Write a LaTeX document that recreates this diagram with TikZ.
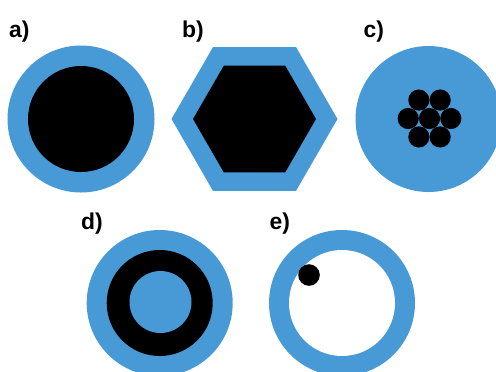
\documentclass[tikz,border=0pt]{standalone}
\usepackage{fontspec}
\setmainfont{Liberation Sans}
\definecolor{wireblue}{RGB}{72,154,214}
\begin{document}
\begin{tikzpicture}[x=1bp, y=-1bp,
  panel/.style={anchor=base west, inner sep=0pt, font=\fontsize{23}{27}\selectfont\bfseries}]
	\useasboundingbox (0,0) rectangle (496,371);
	\clip (0,0) rectangle (496,371);

	% a) round core in jacket
	\fill[wireblue] (81,119) circle (73.5);
	\fill[black] (81,119) circle (53);
	\node[panel] (lbla) at (9,37.3) {a)};

	% b) hexagonal core in hexagonal jacket
	\fill[wireblue, shift={(254.5,119)}] (0:83) \foreach \a in {60,120,...,300} {-- (\a:83)} -- cycle;
	\fill[black, shift={(254.5,119)}] (0:61.5) \foreach \a in {60,120,...,300} {-- (\a:61.5)} -- cycle;
	\node[panel] (lblb) at (182,37.3) {b)};

	% c) seven strands in a thick jacket
	\fill[wireblue] (428.5,119) circle (73);
	\fill[black] (429.5,118.5) circle (10.6);
	\foreach \a in {0,60,...,300}
		\fill[black, shift={(429.5,118.5)}] (\a:21.3) circle (10.6);
	\node[panel] (lblc) at (363.5,37.3) {c)};

	% d) hollow core
	\fill[wireblue] (159.7,303) circle (73);
	\fill[black] (159.7,303) circle (53);
	\fill[wireblue] (160.5,302) circle (31);
	\node[panel] (lbld) at (81,229) {d)};

	% e) tube with loose particle
	\fill[wireblue] (342,303) circle (73);
	\fill[white] (342,303) circle (53);
	\fill[black] (309,275) circle (10.8);
	\node[panel] (lble) at (269.5,229) {e)};
\end{tikzpicture}
\end{document}
